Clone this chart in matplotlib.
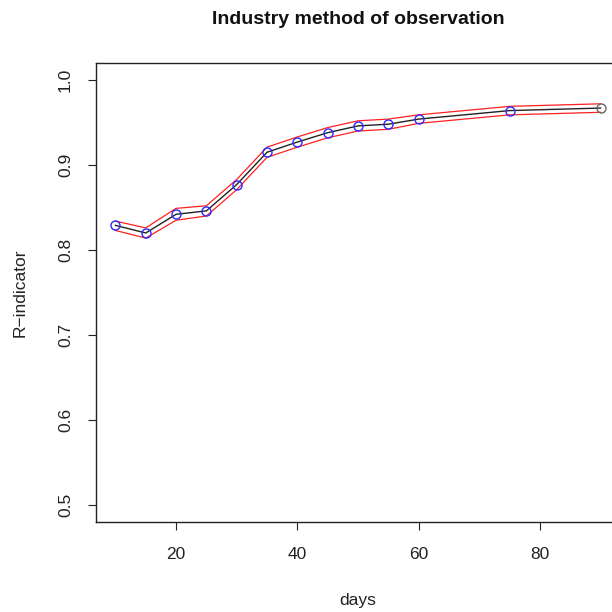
import matplotlib
matplotlib.use("Agg")
import matplotlib.pyplot as plt

plt.rcParams['font.family'] = ['Liberation Sans', 'DejaVu Sans']

# R-indicator by number of days of fieldwork
days = [10, 15, 20, 25, 30, 35, 40, 45, 50, 55, 60, 75, 90]
r_ind = [0.829, 0.820, 0.842, 0.846, 0.877, 0.915, 0.927, 0.938, 0.946, 0.948, 0.954, 0.964, 0.967]
r_upper = [0.834, 0.826, 0.849, 0.852, 0.883, 0.921, 0.933, 0.944, 0.952, 0.954, 0.959, 0.969, 0.972]
r_lower = [0.823, 0.814, 0.835, 0.840, 0.871, 0.909, 0.921, 0.932, 0.940, 0.942, 0.949, 0.959, 0.962]

x_ticks = [20, 40, 60, 80]
y_ticks = [0.5, 0.6, 0.7, 0.8, 0.9, 1.0]

fig = plt.figure(figsize=(6.12, 6.12), dpi=100)
W = H = 612.0
left, right, top, bottom = 96, 620, 63, 522
ax = fig.add_axes([left / W, 1 - bottom / H, (right - left) / W, (bottom - top) / H])

ax.plot(days, r_upper, color='#ff2020', lw=0.9)
ax.plot(days, r_lower, color='#ff2020', lw=0.9)
ax.plot(days, r_ind, color='#222222', lw=1.0)
ax.plot(days[:-1], r_ind[:-1], ls='none', marker='o', ms=6.5, mfc='none', mec='#2a2aff', mew=1.0)
ax.plot(days[-1:], r_ind[-1:], ls='none', marker='o', ms=6.5, mfc='none', mec='#666666', mew=1.0)

# R-style 4% padding around the data range
xmin, xmax = 10, 90
ymin, ymax = 0.5, 1.0
ax.set_xlim(xmin - 0.04 * (xmax - xmin), xmax + 0.04 * (xmax - xmin))
ax.set_ylim(ymin - 0.04 * (ymax - ymin), ymax + 0.04 * (ymax - ymin))

ax.set_xticks(x_ticks)
ax.set_xticklabels([str(t) for t in x_ticks])
ax.set_yticks(y_ticks)
ax.set_yticklabels([f"{t:.1f}" for t in y_ticks], rotation=90, va='center')

ax.tick_params(axis='both', direction='out', length=5.5, width=0.8, labelsize=12.5, colors='#222222')
ax.tick_params(axis='x', pad=12.5)
ax.tick_params(axis='y', pad=11)
for s in ax.spines.values():
    s.set_linewidth(1.0)
    s.set_color('#222222')

ax.set_xlabel('days', fontsize=12.5, labelpad=22, color='#222222')
ax.set_ylabel('R\u2212indicator', fontsize=12.5, labelpad=22, color='#222222')
fig.text(358 / W, 1 - 19 / H, 'Industry method of observation', ha='center', va='center',
         fontsize=14, fontweight='bold', color='#111111')

fig.savefig('out.png', dpi=100)
